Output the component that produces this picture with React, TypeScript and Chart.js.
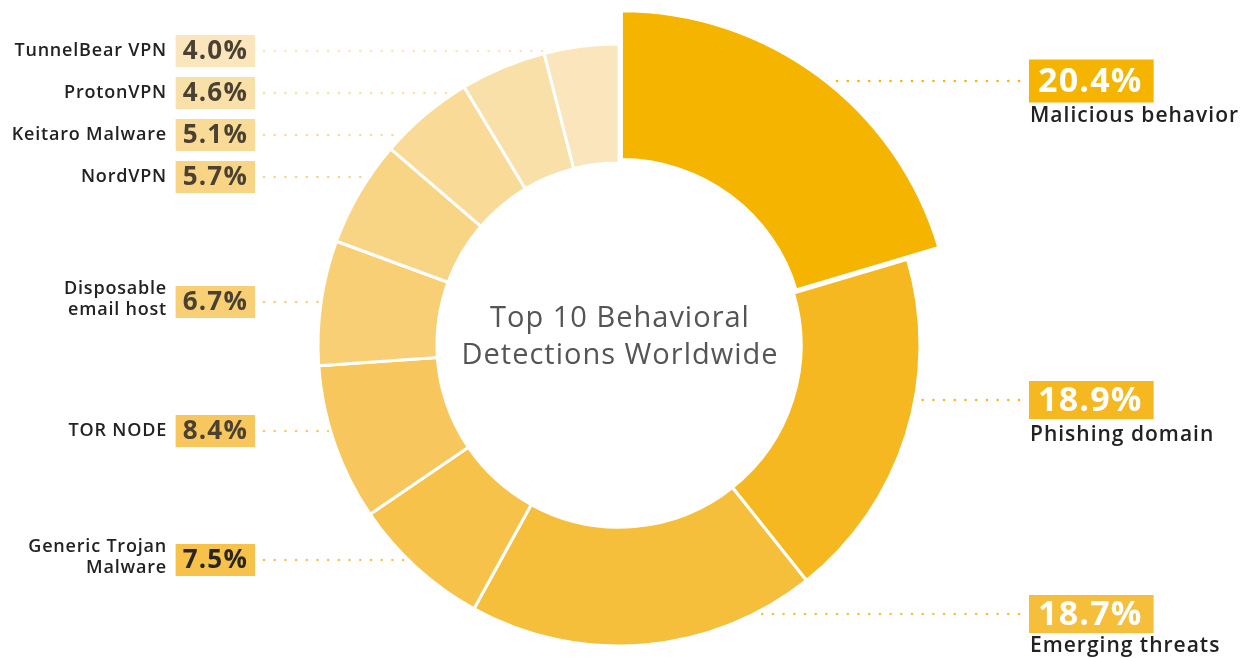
import React, { useEffect, useRef } from 'react';
import { Chart, registerables } from 'chart.js';

Chart.register(...registerables);

// ---- data ----
const categories = [
  'Malicious behavior',
  'Phishing domain',
  'Emerging threats',
  'Generic Trojan Malware',
  'TOR NODE',
  'Disposable email host',
  'NordVPN',
  'Keitaro Malware',
  'ProtonVPN',
  'TunnelBear VPN',
];
const shares = [20.4, 18.9, 18.7, 7.5, 8.4, 6.7, 5.7, 5.1, 4.6, 4.0];
const labelLines = [
  ['Malicious behavior'],
  ['Phishing domain'],
  ['Emerging threats'],
  ['Generic Trojan', 'Malware'],
  ['TOR NODE'],
  ['Disposable', 'email host'],
  ['NordVPN'],
  ['Keitaro Malware'],
  ['ProtonVPN'],
  ['TunnelBear VPN'],
];
const centerTitle = ['Top 10 Behavioral', 'Detections Worldwide'];

// ---- styles / layout ----
const sliceColors = [
  '#F5B400',
  '#F5B820',
  '#F5BF3B',
  '#F6C24A',
  '#F7C75D',
  '#F8CF75',
  '#F8D485',
  '#F9DA97',
  '#F9DFA8',
  '#FAE5BC',
];
const pctTextColors = ['#FFFFFF', '#FFFFFF', '#FFFFFF', '#2A251D', '#4A4133', '#4A4133', '#4A4133', '#4A4133', '#4A4133', '#4A4133'];
const labelSide = ['right', 'right', 'right', 'left', 'left', 'left', 'left', 'left', 'left', 'left'];
const labelY = [81, 400, 614, 560, 431, 302, 177, 135, 93, 51];
const nameOffset = [35, 35, 32, 0, 0, 0, 0, 0, 0, 0];

const FONT = '"Open Sans", "DejaVu Sans", sans-serif';

function setSpacing(ctx: any, v: string) {
  try {
    ctx.letterSpacing = v;
  } catch (e) {
    /* ignore */
  }
}

const labelsPlugin = {
  id: 'calloutLabels',
  afterDatasetsUpdate(chart: any) {
    const meta = chart.getDatasetMeta(0);
    const arc = meta.data[0];
    if (arc) {
      arc.outerRadius = arc.outerRadius + 30;
    }
  },
  beforeDatasetsDraw(chart: any) {
    const ctx = chart.ctx;
    const meta = chart.getDatasetMeta(0);
    ctx.save();
    shares.forEach((_, i) => {
      const el = meta.data[i];
      if (!el) return;
      const cx = el.x;
      const cy = el.y;
      const R = el.outerRadius;
      const y = labelY[i];
      const dy = y - cy;
      const half = Math.abs(dy) < R ? Math.sqrt(R * R - dy * dy) : 0;
      ctx.fillStyle = sliceColors[i];
      const step = 10.7;
      if (labelSide[i] === 'left') {
        const end = cx - half + 6;
        for (let x = 264; x <= end; x += step) {
          ctx.beginPath();
          ctx.arc(x, y, 1.3, 0, Math.PI * 2);
          ctx.fill();
        }
      } else {
        const start = cx + half - 14;
        for (let x = 1019; x >= start; x -= step) {
          ctx.beginPath();
          ctx.arc(x, y, 1.3, 0, Math.PI * 2);
          ctx.fill();
        }
      }
    });
    ctx.restore();
  },
  afterDraw(chart: any) {
    const ctx = chart.ctx;
    const meta = chart.getDatasetMeta(0);
    ctx.save();
    shares.forEach((v, i) => {
      const y = labelY[i];
      const pct = v.toFixed(1) + '%';
      if (labelSide[i] === 'right') {
        ctx.font = `bold 34px ${FONT}`;
        setSpacing(ctx, '1.2px');
        const tw = ctx.measureText(pct).width;
        const h = i === 0 ? 43 : 38;
        const x0 = 1029;
        ctx.fillStyle = sliceColors[i];
        ctx.fillRect(x0, y - h / 2, tw + 20, h);
        ctx.fillStyle = pctTextColors[i];
        ctx.textAlign = 'left';
        ctx.textBaseline = 'middle';
        ctx.fillText(pct, x0 + 9, y + 1);
        ctx.font = `600 21px ${FONT}`;
        setSpacing(ctx, '1px');
        ctx.fillStyle = '#222222';
        labelLines[i].forEach((ln, k) => {
          ctx.fillText(ln, 1030, y + nameOffset[i] + k * 22);
        });
      } else {
        ctx.font = `bold 26px ${FONT}`;
        setSpacing(ctx, '1.2px');
        const tw = ctx.measureText(pct).width;
        const h = 32;
        const x1 = 255;
        const w = tw + 14;
        ctx.fillStyle = sliceColors[i];
        ctx.fillRect(x1 - w, y - h / 2, w, h);
        ctx.fillStyle = pctTextColors[i];
        ctx.textAlign = 'left';
        ctx.textBaseline = 'middle';
        ctx.fillText(pct, x1 - w + 7, y + 1);
        ctx.font = `600 18px ${FONT}`;
        setSpacing(ctx, '0.8px');
        ctx.fillStyle = '#222222';
        ctx.textAlign = 'right';
        const lines = labelLines[i];
        const lh = 21;
        const top = y - ((lines.length - 1) * lh) / 2 - (lines.length > 1 ? 3 : 0);
        lines.forEach((ln, k) => {
          ctx.fillText(ln, 167, top + k * lh);
        });
      }
    });
    const el = meta.data[1];
    if (el) {
      ctx.font = `29px ${FONT}`;
      setSpacing(ctx, '1px');
      ctx.fillStyle = '#555555';
      ctx.textAlign = 'center';
      ctx.textBaseline = 'middle';
      ctx.fillText(centerTitle[0], el.x + 1, 319);
      ctx.fillText(centerTitle[1], el.x + 1, 356);
    }
    ctx.restore();
  },
};

export default function App() {
  const canvasRef = useRef<HTMLCanvasElement | null>(null);

  useEffect(() => {
    const canvas = canvasRef.current;
    if (!canvas) return;
    const chart = new Chart(canvas, {
      type: 'doughnut',
      data: {
        labels: categories,
        datasets: [
          {
            data: shares,
            backgroundColor: sliceColors,
            borderColor: '#FFFFFF',
            borderWidth: 3,
            offset: shares.map((_, i) => (i === 0 ? 16 : 0)),
          },
        ],
      },
      options: {
        animation: false,
        responsive: true,
        maintainAspectRatio: false,
        radius: 301,
        cutout: '60.5%',
        rotation: 0,
        layout: { padding: { left: 0, right: 13, top: 32, bottom: 0 } },
        plugins: {
          legend: { display: false },
          tooltip: { enabled: false },
        },
      } as any,
      plugins: [labelsPlugin],
    });
    return () => chart.destroy();
  }, []);

  return (
    <div style={{ position: 'fixed', left: 0, top: 0, width: 1251, height: 658, background: '#FFFFFF' }}>
      <canvas ref={canvasRef} />
    </div>
  );
}
